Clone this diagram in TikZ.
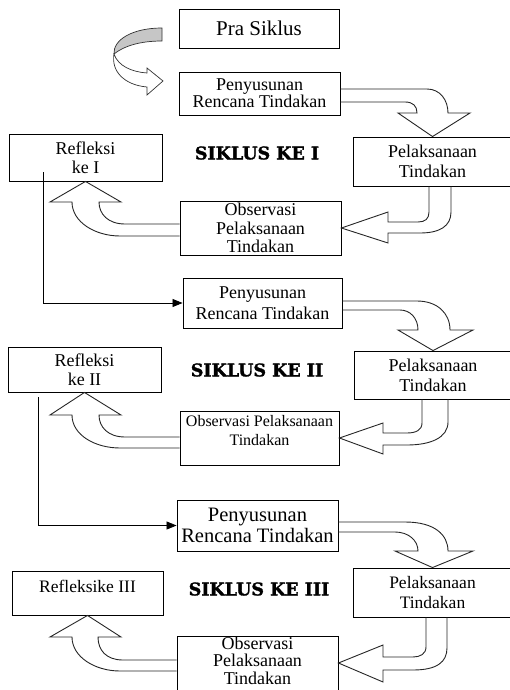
\documentclass[tikz,border=0pt]{standalone}
\usepackage{fontspec}
\setmainfont{Liberation Serif}
\newfontfamily\siklusfont[FakeBold=1.6]{DejaVu Serif Bold}
\usetikzlibrary{calc, arrows.meta, positioning}
\tikzset{
    stepbox/.style={draw, line width=0.9pt, align=center, inner sep=1pt, font=\fontsize{18}{19}\selectfont},
    hollow/.style={draw=black!85, line width=0.9pt, line join=miter},
    siklus/.style={font=\siklusfont\fontsize{17.5}{18}\selectfont},
    link/.style={-{Triangle[length=10pt,width=8pt]}, line width=0.8pt},
}

\begin{document}
\begin{tikzpicture}[x=1pt, y=-1pt]
                \useasboundingbox (0,0) rectangle (509,690);

                % Pra siklus
                \node[stepbox, minimum width=160pt, minimum height=39pt, font=\fontsize{21}{22}\selectfont] (pra) at (259,28.5) {Pra Siklus};

                % Siklus I
                \node[stepbox, minimum width=161pt, minimum height=43pt, font=\fontsize{18}{17}\selectfont] (pen1) at (259.5,93.5) {Penyusunan\\Rencana Tindakan};
                \node[stepbox, minimum width=159pt, minimum height=49pt, font=\fontsize{18}{20}\selectfont] (pel1) at (432.5,161.5) {Pelaksanaan\\Tindakan};
                \node[stepbox, minimum width=161pt, minimum height=54pt, font=\fontsize{18}{18.5}\selectfont] (obs1) at (260.5,228) {Observasi\\Pelaksanaan\\Tindakan};
                \node[stepbox, minimum width=153pt, minimum height=47pt] (ref1) at (85.5,157.5) {Refleksi\\ke I};
                \node[siklus] (sik1) at (257,153) {SIKLUS KE I};

                % Siklus II
                \node[stepbox, minimum width=159pt, minimum height=50pt, font=\fontsize{18}{21}\selectfont] (pen2) at (262.5,303) {Penyusunan\\Rencana Tindakan};
                \node[stepbox, minimum width=158pt, minimum height=48pt, font=\fontsize{18}{20}\selectfont] (pel2) at (433,375) {Pelaksanaan\\Tindakan};
                \node[stepbox, minimum width=159pt, minimum height=54pt] (obs2) at (259.5,438) {};
                \node[align=center, font=\fontsize{16}{19}\selectfont] (obs2txt) at (259.5,430.5) {Observasi Pelaksanaan\\Tindakan};
                \node[stepbox, minimum width=153pt, minimum height=45pt] (ref2) at (84.5,369.5) {Refleksi\\ke II};
                \node[siklus] (sik2) at (257,370) {SIKLUS KE II};

                % Siklus III
                \node[stepbox, minimum width=161pt, minimum height=51pt, font=\fontsize{20.5}{21}\selectfont] (pen3) at (257.5,525.5) {Penyusunan\\Rencana Tindakan};
                \node[stepbox, minimum width=159pt, minimum height=49pt, font=\fontsize{17.5}{20}\selectfont] (pel3) at (432.5,592.5) {Pelaksanaan\\Tindakan};
                \node[stepbox, minimum width=161pt, minimum height=60pt] (obs3) at (257.5,666) {};
                \node[align=center, font=\fontsize{18}{17.5}\selectfont] (obs3txt) at (257.5,660.5) {Observasi\\Pelaksanaan\\Tindakan};
                \node[stepbox, minimum width=151pt, minimum height=44pt] (ref3) at (87.5,593) {};
                \node[font=\fontsize{17.5}{19}\selectfont] (ref3txt) at (87.5,586) {Refleksike III};
                \node[siklus] (sik3) at (259,589) {SIKLUS KE III};

                % Panah lengkung abu-abu
                \filldraw[fill=gray!45, draw=black!80, line width=0.7pt] (162,28) .. controls (132,28) and (113,40) .. (114,54) .. controls (124,46) and (140,41) .. (162,41) -- cycle;
                \filldraw[fill=white, draw=black!80, line width=0.7pt] (114,54) .. controls (118,66) and (132,72) .. (147,73) -- (147,68) -- (163,81) -- (147,95) -- (147,87) .. controls (124,85) and (111,71) .. (114,54) -- cycle;

                % Panah berongga: penyusunan -> pelaksanaan
                \draw[hollow] ($(pen1.east)+(0,-4.5)$) -- (427,89) .. controls (440,89) and (448,100) .. (448,113) -- (470,113) -- (pel1.north) -- (398,113) -- (417,113) .. controls (417,106) and (413,102) .. (405,102) -- ($(pen1.east)+(0,8.5)$);
                \draw[hollow] ($(pen2.east)+(0,-2)$) -- (417,301) .. controls (437,301) and (450,313) .. (450,330) -- (473,330) -- (pel2.north) -- (398,330) -- (418,330) .. controls (418,318) and (410,310) .. (400,310) -- ($(pen2.east)+(0,7)$);
                \draw[hollow] ($(pen3.east)+(0,-3.5)$) -- (405,522) .. controls (435,522) and (448,535) .. (448,551) -- (473,551) -- (pel3.north) -- (395,551) -- (418,551) .. controls (418,540) and (408,532) .. (395,532) -- ($(pen3.east)+(0,6.5)$);

                % Panah berongga: pelaksanaan -> observasi
                \draw[hollow] ($(pel1.south)+(-3.5,0)$) -- (429,212) .. controls (429,219) and (425,222) .. (418,222) -- (388,222) -- (388,212) -- (obs1.east) -- (388,243) -- (388,233) -- (420,233) .. controls (440,233) and (451,226) .. (451,212) -- ($(pel1.south)+(18.5,0)$);
                \draw[hollow] ($(pel2.south)+(-11,0)$) -- (422,423) .. controls (422,430) and (416,433) .. (407,433) -- (383,433) -- (383,423) -- (obs2.east) -- (383,454) -- (383,445) -- (407,445) .. controls (430,445) and (448,438) .. (448,422) -- ($(pel2.south)+(15,0)$);
                \draw[hollow] ($(pel3.south)+(-6.5,0)$) -- (426,647) .. controls (426,654) and (420,657) .. (413,657) -- (383,657) -- (383,645) -- ($(obs3.east)+(0,-3)$) -- (383,682) -- (383,670) -- (413,670) .. controls (437,670) and (447,662) .. (447,648) -- ($(pel3.south)+(14.5,0)$);

                % Panah berongga: observasi -> refleksi
                \draw[hollow] ($(obs1.west)+(0,-4)$) -- (125,224) .. controls (108,224) and (99,214) .. (99,202) -- (121,202) -- (ref1.south) -- (50,202) -- (72,202) .. controls (72,222) and (95,236) .. (120,236) -- ($(obs1.west)+(0,8)$);
                \draw[hollow] ($(obs2.west)+(0,-1)$) -- (125,437) .. controls (108,437) and (99,427) .. (99,415) -- (121,415) -- (ref2.south) -- (50,415) -- (72,415) .. controls (72,435) and (95,448) .. (120,448) -- ($(obs2.west)+(0,10)$);
                \draw[hollow] ($(obs3.west)+(0,-6)$) -- (123,660) .. controls (106,660) and (98,650) .. (98,637) -- (121,637) -- (ref3.south) -- (50,637) -- (72,637) .. controls (72,657) and (95,671) .. (120,671) -- ($(obs3.west)+(0,5)$);

                % Refleksi -> siklus berikutnya
                \draw[link] ($(ref1.south west)+(35,-9)$) |- (pen2.west);
                \draw[link] ($(ref2.south west)+(31,5)$) |- (pen3.west);

\end{tikzpicture}
\end{document}
